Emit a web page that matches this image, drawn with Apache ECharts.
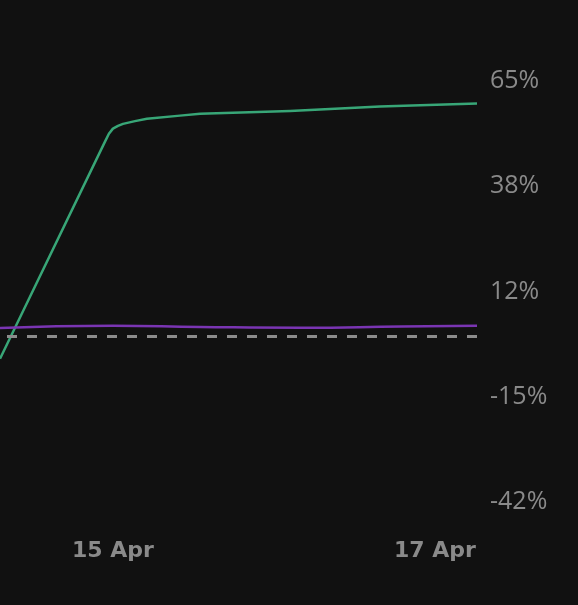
<!DOCTYPE html>
<html>
<head>
<meta charset="utf-8">
<script src="https://cdn.jsdelivr.net/npm/echarts@6/dist/echarts.min.js"></script>
<style>
html,body{margin:0;padding:0;background:#111111;}
#chart{width:578px;height:605px;}
</style>
</head>
<body>
<div id="chart"></div>
<script>
// ---- data ----
var axisStart = '2024-04-14T07:10:00';
var axisEnd = '2024-04-17T06:16:00';
var shownDays = ['15 Apr', '17 Apr'];
var yTicks = [-42, -15, 12, 38, 65];

var greenTimes = ['2024-04-14T07:10:00', '2024-04-14T22:49:00', '2024-04-14T23:24:00', '2024-04-15T00:00:00',
  '2024-04-15T00:45:00', '2024-04-15T01:30:00', '2024-04-15T03:17:00', '2024-04-15T05:04:00',
  '2024-04-15T10:00:00', '2024-04-15T13:00:00', '2024-04-16T02:24:00', '2024-04-16T15:48:00',
  '2024-04-17T06:16:00'];
var greenValues = [-5.6, 49.6, 51.6, 52.9, 53.6, 54.1, 54.8, 55.4, 56.2, 56.7, 57.4, 58.5, 59.3];

var purpleTimes = ['2024-04-14T07:10:00', '2024-04-15T00:00:00', '2024-04-15T13:00:00', '2024-04-16T04:00:00',
  '2024-04-16T19:00:00', '2024-04-17T06:16:00'];
var purpleValues = [2.2, 2.8, 2.5, 2.3, 2.6, 2.8];

var zeroLine = 0;

// ---- chart ----
function pairs(ts, vs) {
  return ts.map(function (t, i) { return [t, vs[i]]; });
}
var months = ['Jan','Feb','Mar','Apr','May','Jun','Jul','Aug','Sep','Oct','Nov','Dec'];
var chart = echarts.init(document.getElementById('chart'), null, {renderer: 'canvas'});
chart.setOption({
  backgroundColor: '#111111',
  animation: false,
  grid: {left: 0, right: 101, top: 81, bottom: 103},
  xAxis: {
    type: 'time',
    min: axisStart,
    max: axisEnd,
    axisLine: {show: false},
    axisTick: {show: false},
    splitLine: {show: false},
    axisLabel: {
      color: '#8a8a8a',
      fontFamily: 'DejaVu Sans',
      fontWeight: 'bold',
      fontSize: 22,
      margin: 38,
      hideOverlap: false,
      formatter: function (v) {
        var d = new Date(v);
        if (d.getHours() !== 0 || d.getMinutes() !== 0) return '';
        var s = d.getDate() + ' ' + months[d.getMonth()];
        return shownDays.indexOf(s) >= 0 ? s : '';
      }
    }
  },
  yAxis: {
    type: 'value',
    position: 'right',
    min: yTicks[0],
    max: yTicks[yTicks.length - 1],
    interval: (yTicks[yTicks.length - 1] - yTicks[0]) / (yTicks.length - 1),
    axisLine: {show: false},
    axisTick: {show: false},
    splitLine: {show: false},
    axisLabel: {
      color: '#8a8a8a',
      fontFamily: 'Open Sans',
      fontSize: 25,
      margin: 13,
      padding: [5, 0, 0, 0],
      formatter: function (v) { return Math.round(v) + '%'; }
    }
  },
  series: [
    {
      type: 'line',
      data: pairs(purpleTimes, purpleValues),
      showSymbol: false,
      smooth: true,
      lineStyle: {color: '#7a35b3', width: 2.5},
      markLine: {
        silent: true,
        symbol: ['none', 'none'],
        label: {show: false},
        lineStyle: {color: '#8c8c8c', type: [10, 10], dashOffset: 13, width: 3},
        data: [{yAxis: zeroLine}]
      },
      z: 3
    },
    {
      type: 'line',
      data: pairs(greenTimes, greenValues),
      showSymbol: false,
      smooth: false,
      lineStyle: {color: '#38a677', width: 2.5, join: 'round'},
      z: 2
    }
  ]
});
</script>
</body>
</html>
